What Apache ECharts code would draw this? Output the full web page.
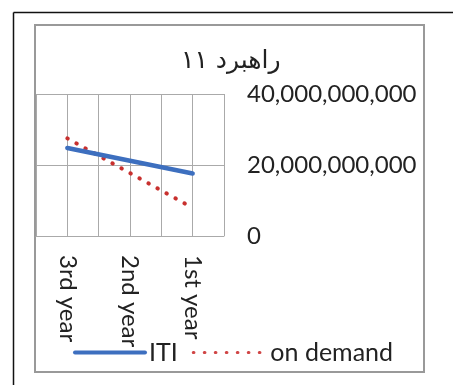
<!DOCTYPE html>
<html>
<head>
<meta charset="utf-8">
<script src="https://cdn.jsdelivr.net/npm/echarts@6/dist/echarts.min.js"></script>
<style>
  html, body { margin: 0; padding: 0; background: #fff; }
  #chart { width: 453px; height: 385px; }
</style>
</head>
<body>
<div id="chart"></div>
<script>
// Years on the category axis
const categories = ['3rd year', '2nd year', '1st year'];
// Half-band categories used only for the finer vertical grid
const gridSlots = ['a', 'b', 'c', 'd', 'e', 'f'];
// Series values
const itiValues = [24.8e9, 21.2e9, 17.6e9];
const onDemandValues = [27.5e9, 17.7e9, 7.9e9];
// Value axis ticks
const yTicks = [0, 20e9, 40e9];

const textFont = 'Lato, "Open Sans", sans-serif';
const blue = '#3d6fbf';
const red = '#c8302e';
const chart = echarts.init(document.getElementById('chart'), null, { renderer: 'canvas' });

chart.setOption({
  animation: false,
  title: {
    text: 'راهبرد ۱۱',
    left: 176,
    top: 44,
    textStyle: { fontFamily: '"DejaVu Sans", sans-serif', fontSize: 25, fontWeight: 'normal', color: '#222' }
  },
  graphic: [
    { type: 'line', shape: { x1: 13.5, y1: 12.5, x2: 453, y2: 12.5 }, style: { stroke: '#111', lineWidth: 1.5 } },
    { type: 'line', shape: { x1: 13.5, y1: 12.5, x2: 13.5, y2: 385 }, style: { stroke: '#111', lineWidth: 1.5 } },
    { type: 'rect', shape: { x: 35, y: 25, width: 389, height: 347 }, style: { fill: 'none', stroke: '#999', lineWidth: 2 }, z: -1 }
  ],
  legend: {
    left: 68,
    top: 335,
    itemWidth: 70,
    itemHeight: 12,
    itemGap: 14,
    itemStyle: { opacity: 0 },
    textStyle: { fontFamily: textFont, fontSize: 25, color: '#222' },
    data: [
      {
        name: 'ITI',
        lineStyle: { width: 4, color: blue, cap: 'round' },
        textStyle: { padding: [0, 0, 0, -1] }
      },
      {
        name: 'on demand',
        lineStyle: { width: 3.2, color: '#d04545', type: [0.5, 10.5], cap: 'round' },
        textStyle: { padding: [0, 0, 0, 2] }
      }
    ]
  },
  grid: { left: 36, top: 94, width: 188, height: 142, outerBoundsMode: 'none' },
  xAxis: [
    {
      type: 'category',
      data: categories,
      axisLine: { lineStyle: { color: '#aaa', width: 1 } },
      axisTick: { show: false },
      splitLine: { show: false },
      axisLabel: { rotate: -90, margin: 19, fontFamily: textFont, fontSize: 24, color: '#222' }
    },
    {
      type: 'category',
      data: gridSlots,
      position: 'bottom',
      axisLine: { show: false },
      axisTick: { show: false },
      axisLabel: { show: false },
      splitLine: { show: true, lineStyle: { color: '#aaa', width: 1 } }
    }
  ],
  yAxis: {
    type: 'value',
    position: 'right',
    min: yTicks[0],
    max: yTicks[yTicks.length - 1],
    interval: yTicks[1] - yTicks[0],
    axisLine: { show: false },
    axisTick: { show: false },
    splitLine: { lineStyle: { color: '#aaa', width: 1 } },
    axisLabel: {
      margin: 23,
      fontFamily: textFont,
      fontSize: 24,
      color: '#222',
      formatter: v => v.toLocaleString('en-US')
    }
  },
  series: [
    {
      name: 'ITI',
      type: 'line',
      data: itiValues,
      symbol: 'none',
      lineStyle: { color: blue, width: 4.5, cap: 'round' },
      itemStyle: { color: blue },
      z: 3
    },
    {
      name: 'on demand',
      type: 'line',
      data: onDemandValues,
      symbol: 'none',
      lineStyle: { color: red, width: 4, type: [0.5, 9.8], cap: 'round' },
      itemStyle: { color: red },
      z: 2
    }
  ]
});
</script>
</body>
</html>
